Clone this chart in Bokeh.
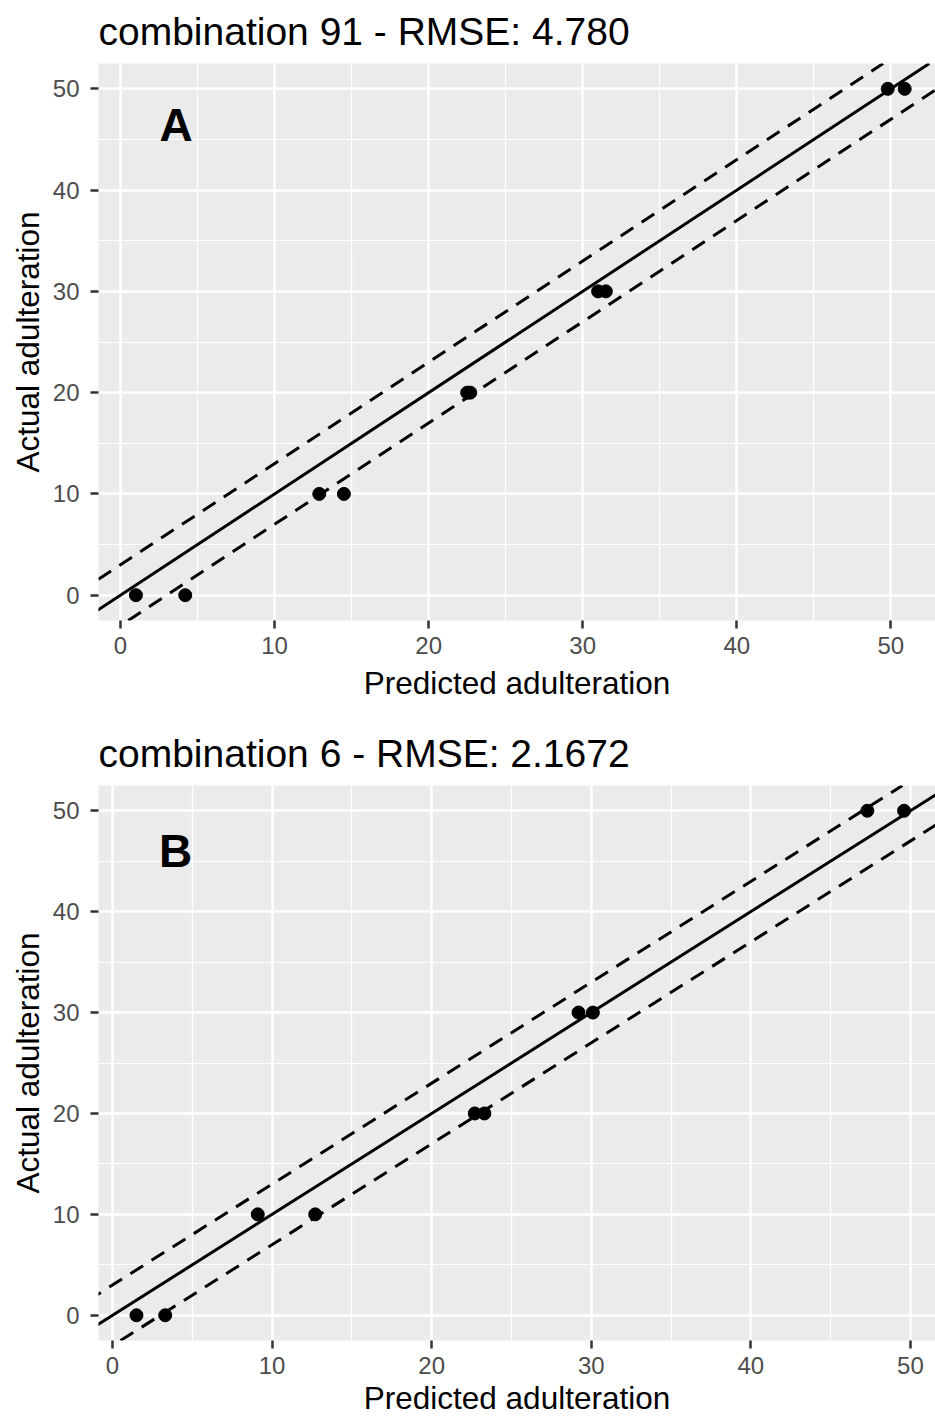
from bokeh.plotting import figure
from bokeh.models import Slope, FixedTicker
from bokeh.layouts import column
from bokeh.core.properties import value
from bokeh.embed import file_html
from bokeh.resources import INLINE

# ---- data ----
titles = ["combination 91 - RMSE: 4.780", "combination 6 - RMSE: 2.1672"]
panel_labels = ["A", "B"]

pred_A = [1.0, 4.2, 12.9, 14.5, 22.5, 22.7, 31.0, 31.5, 49.8, 50.9]
actual_A = [0, 0, 10, 10, 20, 20, 30, 30, 50, 50]

pred_B = [1.5, 3.3, 9.1, 12.7, 22.7, 23.3, 29.2, 30.1, 47.3, 49.6]
actual_B = [0, 0, 10, 10, 20, 20, 30, 30, 50, 50]

band = 3  # dashed reference lines at y = x +/- band
major_ticks = [0, 10, 20, 30, 40, 50]
minor_ticks = [5, 15, 25, 35, 45]

FONT = "Liberation Sans"


def make_panel(title, label, xs, ys, x_range, height, top, bottom, label_x, label_y,
               xlab_standoff, xtitle_standoff):
    p = figure(width=935, height=height, x_range=x_range, y_range=(-2.5, 52.5),
               output_backend="svg", toolbar_location=None,
               min_border_left=98, min_border_right=0,
               min_border_top=top, min_border_bottom=bottom)
    p.background_fill_color = "#EBEBEB"
    p.border_fill_color = "white"
    p.outline_line_color = None

    p.title.text = title
    p.title.text_font = FONT
    p.title.text_font_size = "39px"
    p.title.text_font_style = "normal"
    p.title.text_color = "black"
    p.title.align = "left"
    p.title.vertical_align = "top"
    p.title.standoff = 17

    for ax in (p.xaxis[0], p.yaxis[0]):
        ax.ticker = FixedTicker(ticks=major_ticks, minor_ticks=minor_ticks)
        ax.axis_line_color = None
        ax.major_tick_line_color = "#333333"
        ax.major_tick_line_width = 2.5
        ax.major_tick_in = 0
        ax.major_tick_out = 8
        ax.minor_tick_line_color = None
        ax.major_label_text_font = FONT
        ax.major_label_text_font_size = "24px"
        ax.major_label_text_color = "#4D4D4D"
        ax.axis_label_text_font = FONT
        ax.axis_label_text_font_size = "31.5px"
        ax.axis_label_text_font_style = "normal"
        ax.axis_label_text_color = "black"

    p.xaxis.axis_label = "Predicted adulteration"
    p.yaxis.axis_label = "Actual adulteration"
    p.xaxis.major_label_standoff = xlab_standoff
    p.xaxis.axis_label_standoff = xtitle_standoff
    p.yaxis.major_label_standoff = 11
    p.yaxis.axis_label_standoff = 4

    for g in (p.xgrid[0], p.ygrid[0]):
        g.grid_line_color = "white"
        g.grid_line_width = 2.5
        g.minor_grid_line_color = "white"
        g.minor_grid_line_width = 1.2

    p.add_layout(Slope(gradient=1, y_intercept=0, line_color="black", line_width=3))
    p.add_layout(Slope(gradient=1, y_intercept=band, line_color="black",
                       line_width=3, line_dash="15 10"))
    p.add_layout(Slope(gradient=1, y_intercept=-band, line_color="black",
                       line_width=3, line_dash="15 10"))

    p.scatter(xs, ys, size=13, color="black")

    p.text(x=[label_x], y=[label_y], text=[label], text_font=value(FONT),
           text_font_style="bold", text_font_size="46px", text_align="center",
           text_baseline="alphabetic", text_color="black")
    return p


pA = make_panel(titles[0], panel_labels[0], pred_A, actual_A, (-1.43, 52.9),
                height=722, top=63, bottom=102, label_x=3.6, label_y=46.4,
                xlab_standoff=8, xtitle_standoff=8)
pB = make_panel(titles[1], panel_labels[1], pred_B, actual_B, (-0.88, 51.57),
                height=696, top=63, bottom=76, label_x=3.95, label_y=46.0,
                xlab_standoff=8, xtitle_standoff=3)

layout = column(pA, pB, spacing=0)
open("out.html", "w").write(file_html(layout, INLINE))
